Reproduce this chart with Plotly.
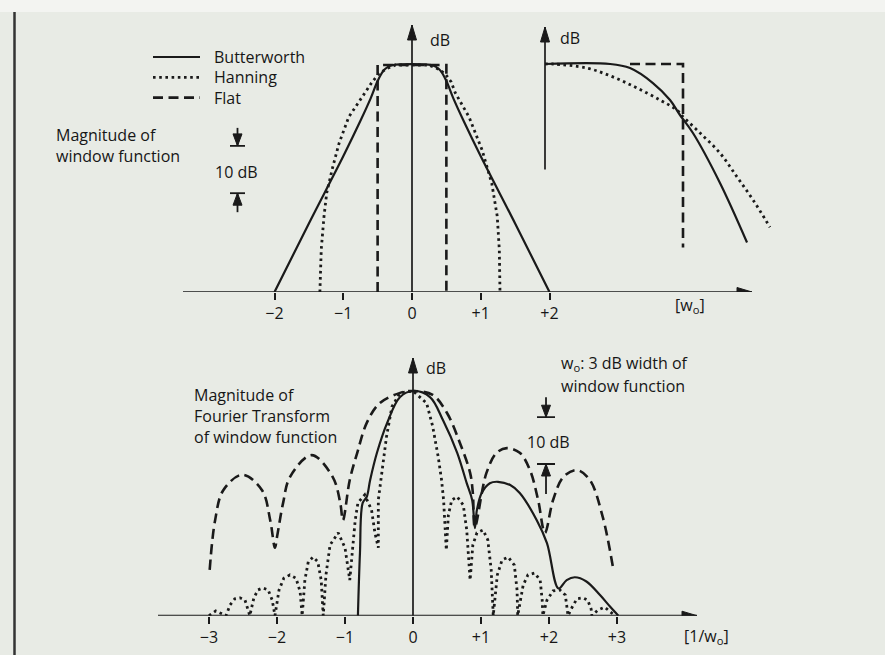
import plotly.graph_objects as go

# ---------------------------------------------------------------------------
# Window function magnitude (upper panel): abscissa in units of w_o, level in dB
# ---------------------------------------------------------------------------
bw_win_x = [-2.0, -1.5, -1.0, -0.75, -0.6, -0.5, -0.42, -0.35, -0.28,
            0.28, 0.35, 0.42, 0.5, 0.6, 0.75, 1.0, 1.5, 2.0]
bw_win_db = [-48, -33.5, -19.3, -11.8, -7.0, -3.4, -1.3, -0.4, 0,
             0, -0.4, -1.3, -3.4, -7.0, -11.8, -19.3, -33.5, -48]

han_win_x = [-1.34, -1.32, -1.28, -1.24, -1.16, -1.06, -0.92, -0.77, -0.68,
             -0.58, -0.48, -0.36, -0.24, 0.24, 0.36, 0.48, 0.57, 0.63, 0.83,
             1.02, 1.16, 1.24, 1.27, 1.28]
han_win_db = [-48, -39, -32, -27, -22, -16.5, -11, -7.8, -5.7,
              -3.6, -1.8, -0.7, 0, 0, -0.7, -1.8, -3.6, -5.9, -11,
              -18, -25, -32, -39, -48]

flat_win_x = [-0.5, -0.5, 0.5, 0.5]
flat_win_db = [-48, 0, 0, -48]

# Pass-band edge, enlarged (inset): abscissa in units of w_o, level in dB
bw_edge_x = [0, 0.236, 0.308, 0.391, 0.453, 0.489, 0.536, 0.634, 0.732]
bw_edge_db = [0, 0, -0.24, -1.12, -2.12, -3.0, -4.06, -7.0, -10.5]

han_edge_x = [0, 0.029, 0.152, 0.246, 0.333, 0.417, 0.478, 0.5, 0.562,
              0.634, 0.696, 0.754, 0.815]
han_edge_db = [0, 0, -0.24, -0.76, -1.41, -2.12, -2.71, -3.1, -4.06,
               -5.24, -6.65, -8.0, -9.6]

flat_edge_x = [0.308, 0.5, 0.5]
flat_edge_db = [0, 0, -10.8]

# ---------------------------------------------------------------------------
# Fourier transform magnitude (lower panel): abscissa in units of 1/w_o, dB
# ---------------------------------------------------------------------------
bw_ft_x = [-0.81, -0.78, -0.74, -0.68, -0.63, -0.53, -0.38, -0.19, 0,
           0.25, 0.44, 0.65, 0.79, 0.87, 0.91, 0.94, 1.01, 1.13, 1.25,
           1.43, 1.57, 1.82, 1.97, 2.14, 2.26, 2.38, 2.55, 2.75, 2.90, 3.02]
bw_ft_db = [-48, -34.6, -23.9, -22.6, -19.0, -13.2, -6.8, -1.3, 0,
            -1.3, -6.2, -13.2, -19.7, -23.3, -29.3, -25.4, -21.8, -19.7, -19.4,
            -20.1, -21.8, -27.6, -32.5, -42.2, -40.4, -39.8, -40.7, -43.6, -46.1, -48]

han_ft_x = [-3.0, -2.90, -2.75, -2.69, -2.62, -2.54, -2.47, -2.43, -2.40,
            -2.34, -2.28, -2.21, -2.13, -2.07, -2.03, -1.97, -1.90, -1.81,
            -1.72, -1.66, -1.63, -1.59, -1.54, -1.47, -1.40, -1.35, -1.32,
            -1.28, -1.22, -1.10, -1.00, -0.93, -0.85, -0.81, -0.71, -0.61,
            -0.56, -0.51, -0.51, -0.44, -0.39, -0.31, -0.19, 0.0, 0.20,
            0.29, 0.37, 0.42, 0.45, 0.49, 0.52, 0.57, 0.65, 0.74, 0.79,
            0.84, 0.88, 0.94, 1.03, 1.10, 1.15, 1.18, 1.24, 1.31, 1.40,
            1.49, 1.53, 1.54, 1.62, 1.69, 1.79, 1.87, 1.90, 1.91, 1.97,
            2.06, 2.16, 2.24, 2.27, 2.28, 2.34, 2.41, 2.50, 2.57, 2.62,
            2.63, 2.72, 2.82, 2.97]
han_ft_db = [-48, -47.0, -48, -45.7, -44.4, -44.2, -44.7, -46.4, -48,
             -44.2, -42.5, -42.1, -42.5, -44.7, -48, -42.5, -40.0, -39.3,
             -40.0, -42.9, -48, -40.4, -36.5, -35.5, -36.5, -40.4, -48,
             -39.3, -32.9, -30.3, -33.5, -40.4, -27.6, -23.9, -22.2, -25.4,
             -30.3, -33.5, -23.3, -15.4, -9.8, -3.35, -0.4, 0.0, -2.6,
             -7.6, -14.0, -19.0, -23.3, -34.0, -26.5, -23.3, -22.6, -24.4, -29.7,
             -40.4, -32.9, -30.3, -29.7, -31.8, -38.2, -48, -39.3, -36.1, -35.5,
             -37.2, -42.5, -48, -41.5, -39.3, -38.9, -40.4, -44.7, -48, -44.7,
             -42.7, -42.5, -43.6, -46.2, -48, -46.2, -44.4, -44.2, -44.7, -46.6,
             -48, -46.8, -46.2, -48]

flat_ft_x = [-2.99, -2.91, -2.79, -2.51, -2.22, -2.10, -2.03, -2.00, -1.91,
             -1.81, -1.49, -1.18, -1.07, -1.03, -0.93, -0.82, -0.68, -0.49,
             -0.19, 0, 0.29, 0.50, 0.69, 0.84, 0.88, 0.91, 1.08, 1.23, 1.38,
             1.57, 1.72, 1.84, 1.94, 2.06, 2.21, 2.41, 2.60, 2.79, 2.94]
flat_ft_db = [-38.2, -27.6, -21.2, -17.9, -21.2, -27.6, -33.5, -31.2, -23.9,
              -18.4, -13.7, -18.4, -23.9, -27.6, -19.0, -13.2, -6.8, -2.6,
              -0.4, 0, -0.85, -4.7, -11.1, -17.5, -21.8, -29.1, -17.5, -13.2, -12.2,
              -13.2, -16.9, -23.3, -30.3, -23.3, -18.4, -16.9, -19.0, -26.9, -37.6]

win_ticks = [-2, -1, 0, 1, 2]
win_tick_text = ["\u22122", "\u22121", "0", "+1", "+2"]
ft_ticks = [-3, -2, -1, 0, 1, 2, 3]
ft_tick_text = ["\u22123", "\u22122", "\u22121", "0", "+1", "+2", "+3"]

legend_names = ["Butterworth", "Hanning", "Flat"]
scale_step_db = 10

# ---------------------------------------------------------------------------
# Page and style
# ---------------------------------------------------------------------------
W, H = 885, 655
INK = "#1a1a1a"
TEXT = "#161616"
PAPER = "#e8ebe5"
FONT = "Open Sans"

SOLID = dict(color=INK, width=2.2)
DOTTED = dict(color=INK, width=2.8, dash="2.6px,3.6px")
DASHED = dict(color=INK, width=2.6, dash="10px,5.5px")
STYLES = [SOLID, DOTTED, DASHED]


def panel(x0px, sx, y0px, sy, left, right, top, bottom):
    """Domain and range so that level 0 / abscissa 0 land on (x0px, y0px)."""
    return dict(
        xdomain=[left / W, right / W],
        xrange=[(left - x0px) / sx, (right - x0px) / sx],
        ydomain=[1 - bottom / H, 1 - top / H],
        yrange=[(y0px - bottom) / sy, (y0px - top) / sy],
    )


P_WIN = panel(412, 68.75, 65, 4.73, 183, 752, 25, 292)
P_EDGE = panel(545, 276, 64, 17, 540, 800, 27, 262)
P_FT = panel(413, 68, 391, 4.68, 158, 697, 358, 615.7)

fig = go.Figure()


def curve(x, y, style, ax, smooth):
    fig.add_trace(go.Scatter(
        x=x, y=y, mode="lines", line=style,
        line_shape="spline" if smooth else "linear",
        xaxis="x" + ax, yaxis="y" + ax,
        showlegend=False, hoverinfo="skip"))


# upper panel
curve(bw_win_x, bw_win_db, SOLID, "", True)
curve(han_win_x, han_win_db, DOTTED, "", False)
curve(flat_win_x, flat_win_db, DASHED, "", False)
# inset
curve(bw_edge_x, bw_edge_db, SOLID, "2", True)
curve(han_edge_x, han_edge_db, DOTTED, "2", True)
curve(flat_edge_x, flat_edge_db, DASHED, "2", False)
# lower panel
curve(bw_ft_x, bw_ft_db, SOLID, "3", True)
curve(han_ft_x, han_ft_db, DOTTED, "3", False)
curve(flat_ft_x, flat_ft_db, DASHED, "3", True)

shapes = []
annotations = []

# page: light strip at the top and the rule on the left
shapes.append(dict(type="rect", xref="paper", yref="paper", x0=0, x1=1,
                   y0=1 - 12 / H, y1=1, fillcolor="#f3f4f1",
                   line=dict(width=0), layer="below"))
shapes.append(dict(type="line", xref="paper", yref="paper",
                   x0=14.5 / W, x1=14.5 / W, y0=0, y1=1 - 12 / H,
                   line=dict(color="#333333", width=2.5)))


def arrow_axis(ax, x0, y0, x1, y1, upward):
    xr, yr = "x" + ax, "y" + ax
    shapes.append(dict(type="line", xref=xr, yref=yr, x0=x0, y0=y0, x1=x1, y1=y1,
                       line=dict(color=INK, width=1.7)))
    head = "M0,0 L-4.5,-15 L4.5,-15 Z" if upward else "M0,0 L-15,4.5 L-15,-4.5 Z"
    shapes.append(dict(type="path", xref=xr, yref=yr, xsizemode="pixel",
                       ysizemode="pixel", xanchor=x1, yanchor=y1, path=head,
                       fillcolor=INK, line=dict(color=INK, width=1)))


base_win = P_WIN["yrange"][0]
arrow_axis("", P_WIN["xrange"][0], base_win, P_WIN["xrange"][1], base_win, False)
arrow_axis("", 0, base_win, 0, P_WIN["yrange"][1], True)
arrow_axis("2", 0, -6.2, 0, P_EDGE["yrange"][1], True)
base_ft = P_FT["yrange"][0]
arrow_axis("3", P_FT["xrange"][0], base_ft, P_FT["xrange"][1], base_ft, False)
arrow_axis("3", 0, base_ft, 0, P_FT["yrange"][1], True)


def scale_bar(xref, yref, xc, db_top, half, stem_top, stem_bot):
    """Two bars 10 dB apart with arrows pointing at them from outside."""
    db_bot = db_top - scale_step_db
    for db, sgn, stem in ((db_top, 1, stem_top), (db_bot, -1, stem_bot)):
        shapes.append(dict(type="line", xref=xref, yref=yref, xsizemode="pixel",
                           xanchor=xc, x0=-half, x1=half, y0=db, y1=db,
                           line=dict(color=INK, width=1.8)))
        shapes.append(dict(type="line", xref=xref, yref=yref, xsizemode="pixel",
                           ysizemode="pixel", xanchor=xc, yanchor=db,
                           x0=0, x1=0, y0=0, y1=sgn * stem,
                           line=dict(color=INK, width=1.8)))
        shapes.append(dict(type="path", xref=xref, yref=yref, xsizemode="pixel",
                           ysizemode="pixel", xanchor=xc, yanchor=db,
                           path=f"M0,0 L-4.5,{sgn * 12} L4.5,{sgn * 12} Z",
                           fillcolor=INK, line=dict(color=INK, width=1)))


scale_bar("paper", "y", 237.5 / W, -17.1, 7.5, 18, 19)
scale_bar("x3", "y3", 1.956, -5.6, 9, 20, 30)

# hand-drawn key
for i, (name, style) in enumerate(zip(legend_names, STYLES)):
    yk = 1 - (57 + 20.3 * i) / H
    shapes.append(dict(type="line", xref="paper", yref="paper",
                       x0=153 / W, x1=200 / W, y0=yk, y1=yk, line=style))
    annotations.append(dict(text=name, x=212 / W, y=yk, xref="paper", yref="paper",
                            xanchor="left", yanchor="middle", showarrow=False,
                            font=dict(family=FONT, size=16, color=TEXT)))


def label(text, xp, yp, anchor="left", size=16):
    annotations.append(dict(text=text, x=xp / W, y=1 - yp / H, xref="paper",
                            yref="paper", xanchor=anchor, yanchor="middle",
                            align=anchor if anchor != "center" else "center",
                            showarrow=False,
                            font=dict(family=FONT, size=size, color=TEXT)))


label("Magnitude of<br>window function", 54, 145)
label("10 dB", 236, 172, "center")
label("dB", 440, 40, "center")
label("dB", 570, 38, "center")
label("[w<sub>o</sub>]", 690, 305, "center")
label("w<sub>o</sub>: 3 dB width of", 559, 363)
label("window function", 559, 386)
label("10 dB", 548, 442, "center")
label("Magnitude of<br>Fourier Transform<br>of window function", 192, 416)
label("dB", 436, 368, "center")
label("[1/w<sub>o</sub>]", 706, 636, "center")

hidden = dict(visible=False, showgrid=False, zeroline=False)
tick_axis = dict(showgrid=False, zeroline=False, showline=False, ticks="outside",
                 ticklen=7, tickwidth=1.7, tickcolor=INK,
                 tickfont=dict(family=FONT, size=16, color=TEXT))

fig.update_layout(
    width=W, height=H,
    margin=dict(l=0, r=0, t=0, b=0),
    paper_bgcolor=PAPER, plot_bgcolor="rgba(0,0,0,0)",
    xaxis=dict(domain=P_WIN["xdomain"], range=P_WIN["xrange"], anchor="y",
               tickvals=win_ticks, ticktext=win_tick_text, **tick_axis),
    yaxis=dict(domain=P_WIN["ydomain"], range=P_WIN["yrange"], anchor="x", **hidden),
    xaxis2=dict(domain=P_EDGE["xdomain"], range=P_EDGE["xrange"], anchor="y2", **hidden),
    yaxis2=dict(domain=P_EDGE["ydomain"], range=P_EDGE["yrange"], anchor="x2", **hidden),
    xaxis3=dict(domain=P_FT["xdomain"], range=P_FT["xrange"], anchor="y3",
                tickvals=ft_ticks, ticktext=ft_tick_text, **tick_axis),
    yaxis3=dict(domain=P_FT["ydomain"], range=P_FT["yrange"], anchor="x3", **hidden),
    shapes=shapes,
    annotations=annotations,
)

fig.write_html("out.html")
